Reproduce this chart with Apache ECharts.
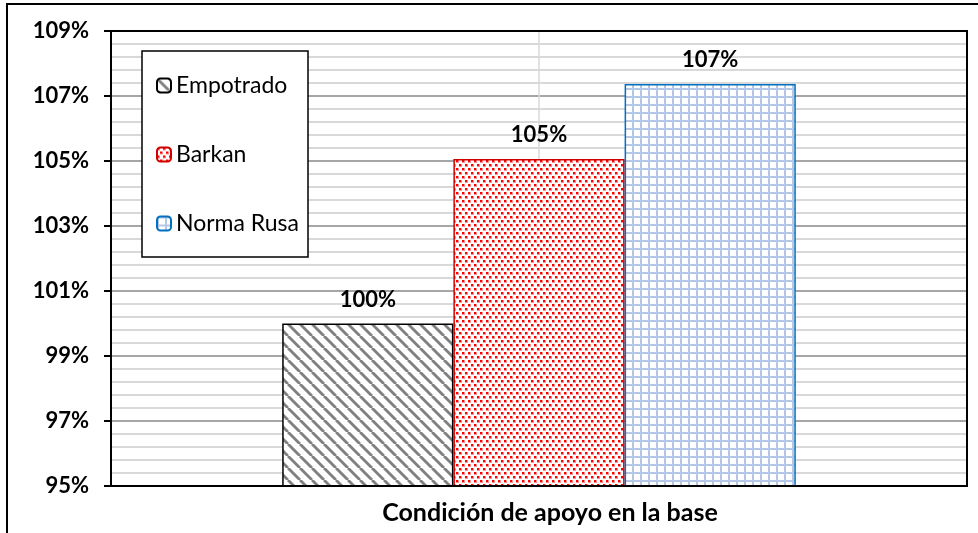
<!DOCTYPE html>
<html><head><meta charset="utf-8">
<script src="https://cdn.jsdelivr.net/npm/echarts@6/dist/echarts.min.js"></script>
<style>html,body{margin:0;padding:0;background:#fff}#c{width:978px;height:533px}</style>
</head><body><div id="c"></div>
<script>
const categories = ['Condición de apoyo en la base'];
const seriesNames = ['Empotrado', 'Barkan', 'Norma Rusa'];
const empotrado = [100];
const barkan = [105.06];
const normaRusa = [107.37];
const yTicks = [95, 97, 99, 101, 103, 105, 107, 109];

function tile(w, h, draw) {
  const c = document.createElement('canvas');
  c.width = w; c.height = h;
  const g = c.getContext('2d');
  g.fillStyle = '#fff'; g.fillRect(0, 0, w, h);
  draw(g);
  return { image: c, repeat: 'repeat' };
}
const stripes = tile(12, 12, g => {
  g.strokeStyle = '#808080'; g.lineWidth = 2.8;
  for (const o of [-12, 0, 12]) { g.beginPath(); g.moveTo(o, 0); g.lineTo(o + 12, 12); g.stroke(); }
});
const dots = tile(6, 8, g => {
  g.fillStyle = '#ff9090';
  [[0,0],[3,4]].forEach(p => g.fillRect(p[0], p[1], 3, 3));
  g.fillStyle = '#ff0000';
  [[0,0],[3,4]].forEach(p => g.fillRect(p[0], p[1], 2, 2));
});
const grid = tile(8, 8, g => {
  g.fillStyle = '#b4c7e7';
  g.fillRect(0, 0, 8, 2); g.fillRect(0, 0, 2, 8);
});

const FONT = 'Lato';
const chart = echarts.init(document.getElementById('c'));
function bar(name, data, fill, border, extra) {
  return Object.assign({
    name, type: 'bar', data, barGap: '0%', barCategoryGap: '40%', z: 2,
    itemStyle: { color: fill, borderColor: border, borderWidth: 1.5 },
    label: { show: true, position: 'top', distance: 13, formatter: p => Math.round(p.value) + '%',
      fontFamily: FONT, fontWeight: 'bold', fontSize: 22, color: '#000' }
  }, extra || {});
}
chart.setOption({
  animation: false,
  backgroundColor: '#fff',
  textStyle: { fontFamily: FONT },
  graphic: [{ type: 'rect', shape: { x: 7, y: 4, width: 1000, height: 600 },
    style: { fill: 'none', stroke: '#000', lineWidth: 2 }, silent: true, z: 0 }],
  grid: { left: 111, right: 11, top: 31, bottom: 47, show: true, borderColor: '#000', borderWidth: 2, z: 3 },
  legend: {
    orient: 'vertical', left: 142, top: 51, data: seriesNames,
    backgroundColor: '#fff', borderColor: '#000', borderWidth: 1.5,
    padding: [23, 9, 22, 14], itemGap: 46, itemWidth: 14, itemHeight: 14,
    textStyle: { fontFamily: FONT, fontSize: 23, color: '#000' }
  },
  xAxis: {
    type: 'category', data: categories,
    name: categories[0], nameLocation: 'middle', nameGap: 14,
    nameTextStyle: { fontFamily: FONT, fontWeight: 'bold', fontSize: 25, color: '#000', padding: [0, 0, 0, 22] },
    axisLabel: { show: false }, axisTick: { show: false },
    axisLine: { lineStyle: { color: '#000', width: 2 } }
  },
  yAxis: {
    type: 'value', min: yTicks[0], max: yTicks[yTicks.length - 1], interval: 2,
    axisLine: { show: true, lineStyle: { color: '#000', width: 2 } },
    axisTick: { show: true, length: 7, lineStyle: { color: '#000', width: 2 } },
    axisLabel: { margin: 22, formatter: v => Math.round(v) + '%',
      fontFamily: FONT, fontWeight: 'bold', fontSize: 22, color: '#000' },
    splitLine: { show: true, lineStyle: { color: '#a6a6a6', width: 2 } },
    minorTick: { show: false, splitNumber: 5 },
    minorSplitLine: { show: true, lineStyle: { color: '#d9d9d9', width: 2 } }
  },
  series: [
    bar(seriesNames[0], empotrado, stripes, '#000'),
    bar(seriesNames[1], barkan, dots, '#d00000', {
      markLine: { silent: true, symbol: 'none', z: 1, label: { show: false },
        lineStyle: { color: '#d9d9d9', width: 1.5, type: 'solid' }, data: [{ xAxis: 0 }] }
    }),
    bar(seriesNames[2], normaRusa, grid, '#0070c0')
  ]
});
</script></body></html>
